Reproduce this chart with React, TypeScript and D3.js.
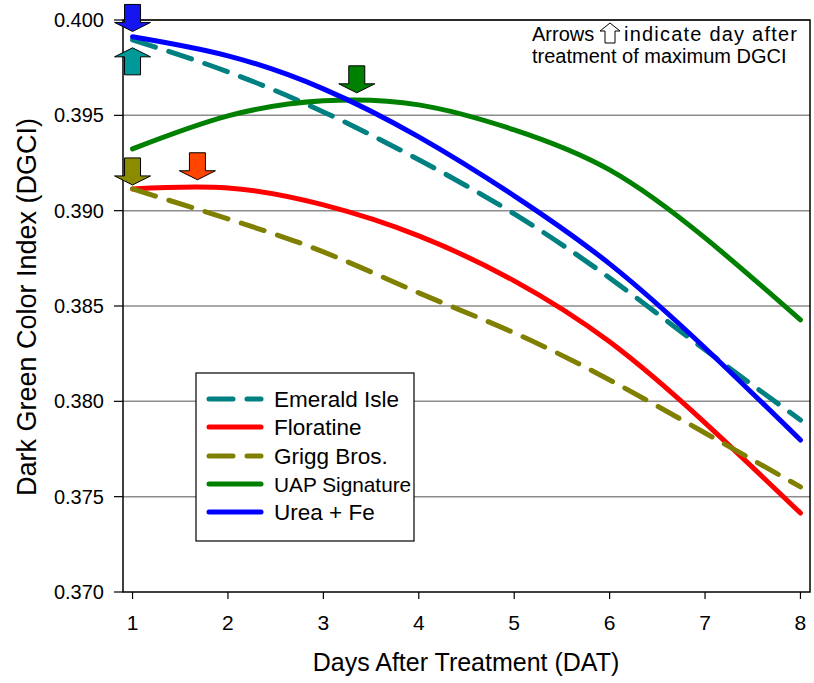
import React from 'react';
import * as d3 from 'd3';

const days = [1, 2, 3, 4, 5, 6, 7, 8];
const yTicks = [0.370, 0.375, 0.380, 0.385, 0.390, 0.395, 0.400];

const seriesNames = ['Emerald Isle', 'Floratine', 'Grigg Bros.', 'UAP Signature', 'Urea + Fe'];
const emeraldIsle = [0.39896, 0.39728, 0.39518, 0.39267, 0.38983, 0.38647, 0.38270, 0.37902];
const floratine = [0.39114, 0.39119, 0.39030, 0.38868, 0.38632, 0.38312, 0.37887, 0.37414];
const griggBros = [0.39114, 0.38957, 0.38784, 0.38569, 0.38359, 0.38112, 0.37834, 0.37551];
const uapSignature = [0.39324, 0.39497, 0.39576, 0.39555, 0.39424, 0.39214, 0.38857, 0.38427];
const ureaFe = [0.39912, 0.39812, 0.39639, 0.39387, 0.39078, 0.38721, 0.38280, 0.37797];

// arrows marking the day of maximum DGCI (tip position in data units)
const arrowDays = [1, 1.68, 1, 3.35, 1];
const arrowTips = [0.39854, 0.39162, 0.39135, 0.39618, 0.39940];
const arrowUp = [true, false, false, false, false];

const lineColors = ['#008080', '#FF0000', '#808000', '#008000', '#0000FF'];
const arrowColors = ['#009999', '#FF4500', '#8B8B00', '#008000', '#1515F0'];
const dashed = [true, false, true, false, false];

const W = 814;
const H = 683;
const FONT = 'Arial, "Liberation Sans", sans-serif';

// block arrow: tip at (0,0), pointing down (flip for up)
function arrowPath(up: boolean) {
    const hw = 18, sw = 8, hh = 9, total = 27;
    const s = up ? -1 : 1;
    const pts = [
        [0, 0], [hw, -hh * s], [sw, -hh * s], [sw, -total * s],
        [-sw, -total * s], [-sw, -hh * s], [-hw, -hh * s]
    ];
    return 'M' + pts.map(p => p.join(',')).join('L') + 'Z';
}

export default function App() {
    const x = d3.scaleLinear().domain([0.9, 8.1]).range([123, 810]);
    const y = d3.scaleLinear().domain([0.370, 0.400]).range([592, 20]);

    const allSeries = [emeraldIsle, floratine, griggBros, uapSignature, ureaFe];
    const line = d3.line<number>()
        .x((_, i) => x(days[i]))
        .y(d => y(d))
        .curve(d3.curveNatural);

    const [x0, x1] = x.range();
    const [yb, yt] = y.range();
    const legendY = [399, 427, 456, 484, 512];

    return (
        <svg width={W} height={H} style={{ position: 'absolute', left: 0, top: 0, background: '#fff' }}
            fontFamily={FONT}>
            {/* gridlines */}
            {yTicks.slice(1).map(t => (
                <line key={'g' + t} x1={x0} x2={x1} y1={y(t)} y2={y(t)} stroke="#8c8c8c" strokeWidth={1.5} />
            ))}

            {/* series lines */}
            {allSeries.map((s, i) => (
                <path key={seriesNames[i]} d={line(s) || ''} fill="none" stroke={lineColors[i]}
                    strokeWidth={5} strokeLinecap="round"
                    strokeDasharray={dashed[i] ? '24 14' : undefined} />
            ))}

            {/* frame */}
            <rect x={x0} y={yt} width={x1 - x0} height={yb - yt} fill="none" stroke="#000" strokeWidth={1.5} />

            {/* y axis */}
            {yTicks.map(t => (
                <g key={'y' + t}>
                    <line x1={x0 - 9} x2={x0} y1={y(t)} y2={y(t)} stroke="#000" strokeWidth={1.2} />
                    <text x={104} y={y(t) + 7} textAnchor="end" fontSize={20}>{d3.format('.3f')(t)}</text>
                </g>
            ))}

            {/* x axis */}
            {days.map(d => (
                <g key={'x' + d}>
                    <line x1={x(d)} x2={x(d)} y1={yb} y2={yb + 7} stroke="#000" strokeWidth={1.2} />
                    <text x={x(d)} y={630} textAnchor="middle" fontSize={21}>{d}</text>
                </g>
            ))}

            <text x={466} y={671} textAnchor="middle" fontSize={25}>Days After Treatment (DAT)</text>
            <text transform="translate(36,307) rotate(-90)" textAnchor="middle" fontSize={27}>
                Dark Green Color Index (DGCI)
            </text>

            {/* max arrows */}
            {arrowDays.map((d, i) => (
                <path key={'a' + i} transform={`translate(${x(d)},${y(arrowTips[i])})`}
                    d={arrowPath(arrowUp[i])} fill={arrowColors[i]} stroke="#000" strokeWidth={1} />
            ))}

            {/* legend */}
            <rect x={196} y={373} width={218} height={168} fill="#fff" stroke="#000" strokeWidth={1.2} />
            {seriesNames.map((n, i) => (
                <g key={'l' + n}>
                    <line x1={209} x2={261} y1={legendY[i]} y2={legendY[i]} stroke={lineColors[i]}
                        strokeWidth={5} strokeLinecap="round"
                        strokeDasharray={dashed[i] ? '24 14' : undefined} />
                    <text x={274} y={legendY[i] + 8} fontSize={i === 3 ? 20.8 : 22.5}>{n}</text>
                </g>
            ))}

            {/* annotation */}
            <text x={532} y={41} fontSize={20}>Arrows</text>
            <path transform="translate(610,23)"
                d="M0,0L10,8L5,8L5,20L-5,20L-5,8L-10,8Z" fill="#fff" stroke="#000" strokeWidth={1} />
            <text x={624} y={41} fontSize={20} textLength={173} lengthAdjust="spacing">indicate day after</text>
            <text x={532} y={63} fontSize={20}>treatment of maximum DGCI</text>
        </svg>
    );
}
